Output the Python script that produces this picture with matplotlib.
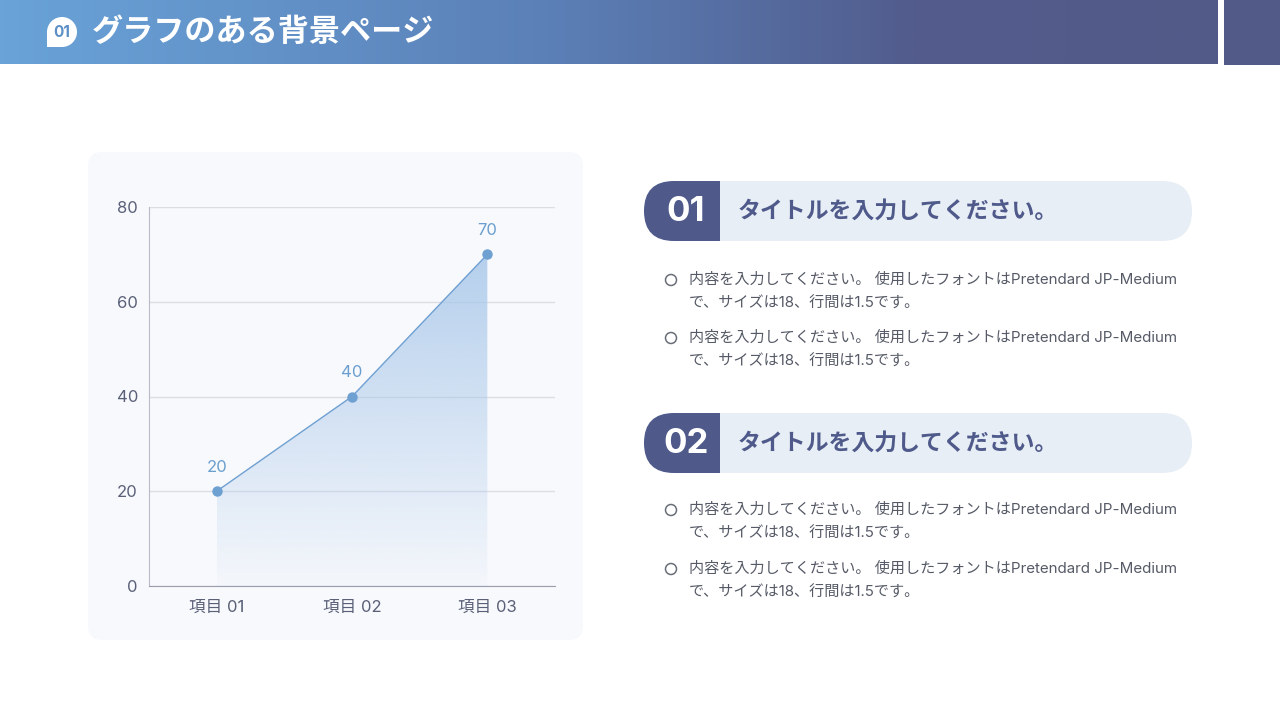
import matplotlib.pyplot as plt
import numpy as np
from matplotlib.patches import FancyBboxPatch, Rectangle, Circle, Polygon
from matplotlib.colors import LinearSegmentedColormap, to_rgb

plt.rcParams['font.family'] = ['Inter', 'Noto Sans CJK JP', 'DejaVu Sans']

# データ
categories = ['項目 01', '項目 02', '項目 03']
values = [20, 40, 70]
y_ticks = [0, 20, 40, 60, 80]

page_title = 'グラフのある背景ページ'
badge = '01'
section_nums = ['01', '02']
section_titles = ['タイトルを入力してください。', 'タイトルを入力してください。']
bullet_line1 = '内容を入力してください。 使用したフォントはPretendard JP-Medium'
bullet_line2 = 'で、サイズは18、行間は1.5です。'

navy = '#4f5a8b'
light = '#e7eef6'
text_grey = '#555a66'

fig = plt.figure(figsize=(12.8, 7.2), dpi=100)
fig.patch.set_facecolor('white')

# 背景用の軸（ピクセル座標）
bg = fig.add_axes([0, 0, 1, 1])
bg.set_xlim(0, 1280)
bg.set_ylim(720, 0)
bg.axis('off')

# ヘッダーのグラデーション
cmap = LinearSegmentedColormap.from_list('hdr', [(0, '#69a3d8'), (0.45, '#5b80b7'),
                                                 (0.75, '#525c8d'), (1, '#525a88')])
grad = np.linspace(0, 1, 512).reshape(1, -1)
bg.imshow(grad, cmap=cmap, extent=[0, 1218, 64, 0], aspect='auto', zorder=1)
bg.add_patch(Rectangle((1224, 0), 56, 65, facecolor='#525a87', edgecolor='none', zorder=1))

# バッジ
bg.add_patch(Circle((62, 32), 15, facecolor='white', edgecolor='none', zorder=2))
bg.add_patch(Rectangle((47, 32), 15, 15, facecolor='white', edgecolor='none', zorder=2))
bg.text(62, 32.5, badge, color='#5b8fc6', fontsize=11, fontweight='bold',
        ha='center', va='center', zorder=3)
bg.text(92, 32, page_title, color='white', fontsize=22.4, fontweight='bold',
        ha='left', va='center', zorder=3)

# グラフのパネル
bg.add_patch(FancyBboxPatch((88, 152), 495, 488, boxstyle='round,pad=0,rounding_size=14',
                            facecolor='#f8f9fc', edgecolor='none', zorder=1))

# 右側のセクション
pill_tops = [181, 413]
bullet_rows = [[280, 338], [510, 569]]
for i in range(2):
    top = pill_tops[i]
    bg.add_patch(FancyBboxPatch((644, top), 548, 60, boxstyle='round,pad=0,rounding_size=30',
                                facecolor=light, edgecolor='none', zorder=2))
    bg.add_patch(FancyBboxPatch((644, top), 110, 60, boxstyle='round,pad=0,rounding_size=30',
                                facecolor=navy, edgecolor='none', zorder=3))
    bg.add_patch(Rectangle((720, top), 40, 60, facecolor=light, edgecolor='none', zorder=4))
    bg.text(686, top + 31, section_nums[i], color='white', fontsize=25, fontweight='bold',
            ha='center', va='center', zorder=5)
    bg.text(738, top + 31, section_titles[i], color=navy, fontsize=16.5, fontweight='bold',
            ha='left', va='center', zorder=5)
    for row in bullet_rows[i]:
        bg.add_patch(Circle((671, row), 5.5, facecolor='none', edgecolor='#6a6e78',
                            linewidth=1.1, zorder=5))
        bg.text(689, row, bullet_line1, color=text_grey, fontsize=10.9,
                ha='left', va='center', zorder=5)
        bg.text(689, row + 24, bullet_line2, color=text_grey, fontsize=10.9,
                ha='left', va='center', zorder=5)

# 折れ線グラフ
ax = fig.add_axes([149 / 1280, 1 - 586 / 720, 406 / 1280, 379 / 720])
ax.set_facecolor('none')
x = np.arange(len(categories))
ax.set_xlim(-0.5, 2.5)
ax.set_ylim(0, 80)

# グラデーション塗り
top_rgb = to_rgb('#a9c8ea')
n = 256
img = np.zeros((n, 1, 4))
img[:, 0, :3] = top_rgb
img[:, 0, 3] = np.linspace(0.85, 0.05, n)
im = ax.imshow(img, extent=[x[0], x[-1], 0, max(values)], origin='upper',
               aspect='auto', zorder=1)
poly = Polygon(list(zip(x, values)) + [(x[-1], 0), (x[0], 0)], closed=True,
               transform=ax.transData, facecolor='none', edgecolor='none')
ax.add_patch(poly)
im.set_clip_path(poly)

ax.plot(x, values, color='#6fa0d2', linewidth=1, marker='o', markersize=6.5,
        markerfacecolor='#6fa0d2', markeredgecolor='#6fa0d2', zorder=3)
for xi, v in zip(x, values):
    ax.annotate(str(v), (xi, v), xytext=(0, 12), textcoords='offset points',
                ha='center', va='bottom', color='#6a9fcf', fontsize=12)

ax.set_xticks(x)
ax.set_xticklabels(categories)
ax.set_yticks(y_ticks)
ax.grid(axis='y', color='#dcdee4', linewidth=1, zorder=0)
ax.set_axisbelow(True)
ax.tick_params(length=0, labelsize=12, labelcolor='#5a6078', pad=10)
ax.tick_params(axis='y', pad=8)
for side in ['top', 'right']:
    ax.spines[side].set_visible(False)
ax.spines['left'].set_color('#b8bcc6')
ax.spines['bottom'].set_color('#9a9eaa')

fig.savefig('out.png', dpi=100)
